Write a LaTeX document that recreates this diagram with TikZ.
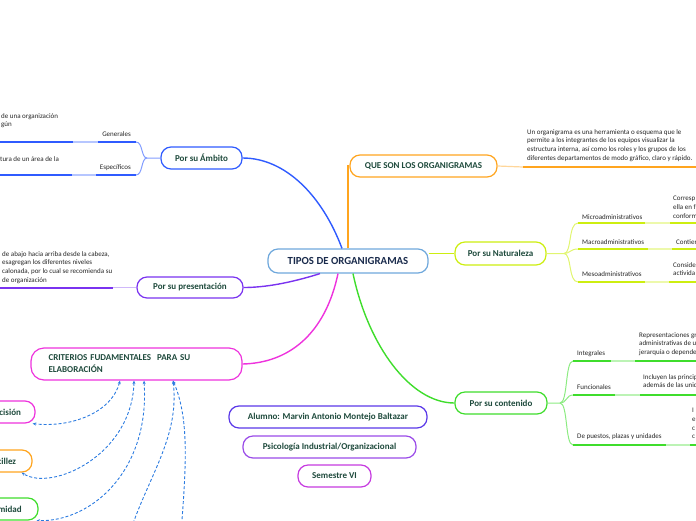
\documentclass[tikz,border=0pt]{standalone}
\usepackage{fontspec}
\setmainfont{Carlito}
\usetikzlibrary{arrows.meta}

\definecolor{ambi}{HTML}{2F5BFF}
\definecolor{naranja}{HTML}{FFA51F}
\definecolor{lima}{HTML}{CDEE10}
\definecolor{verde}{HTML}{3FDD2C}
\definecolor{morado}{HTML}{7A33F0}
\definecolor{rosa}{HTML}{EE33DD}
\definecolor{raiz}{HTML}{6FA8DC}
\definecolor{alumno}{HTML}{5A38E8}
\definecolor{psico}{HTML}{9A4BE8}
\definecolor{seme}{HTML}{C63BE0}
\definecolor{relazul}{HTML}{2B7BE0}
\definecolor{txtverde}{HTML}{1E4A3C}
\definecolor{txtraiz}{HTML}{1A2B4C}

\begin{document}
\begin{tikzpicture}[x=1pt,y=-1pt,
    topic/.style={draw, line width=1.2pt, rounded corners=10pt, fill=white,
      minimum height=22pt, inner sep=2pt, text=txtverde,
      font=\fontsize{9}{10}\selectfont\bfseries},
    leaf/.style={inner sep=0pt, text=black!85, font=\fontsize{7}{8}\selectfont},
    note/.style={leaf, align=left, font=\fontsize{7}{8.7}\selectfont},
    rel/.style={draw=relazul, line width=0.9pt, dash pattern=on 3pt off 2pt,
      {Stealth[length=3.5pt,width=3pt]}-{Stealth[length=3.5pt,width=3pt]}},
  ]
      \useasboundingbox (0,0) rectangle (696,520);
      \clip (0,0) rectangle (696,520);

      % main topics
      \node[topic, draw=raiz, minimum width=160pt, minimum height=24pt, text=txtraiz,
        font=\fontsize{10.8}{12}\selectfont\bfseries] (root) at (348,261) {TIPOS DE ORGANIGRAMAS};
      \node[topic, draw=naranja, minimum width=147pt] (que) at (423.5,166) {QUE SON LOS ORGANIGRAMAS};
      \node[topic, draw=lima, minimum width=91pt, minimum height=23pt] (natu) at (500.5,253.5) {Por su Naturaleza};
      \node[topic, draw=verde, minimum width=92pt] (conte) at (501,403) {Por su contenido};
      \node[topic, draw=ambi, minimum width=81pt] (ambito) at (201.5,158) {Por su Ámbito};
      \node[topic, draw=morado, minimum width=106pt, minimum height=21pt] (presen) at (190,287.5) {Por su presentación};
      \node[topic, draw=rosa, minimum width=211pt, minimum height=32pt, rounded corners=13pt,
        align=left, text width=176pt, font=\fontsize{9}{12}\selectfont\bfseries]
        (crit) at (136.5,364) {CRITERIOS FUDAMENTALES\ \ PARA SU\\ELABORACIÓN};

      \node[topic, draw=alumno, minimum width=198pt] (alum) at (328,417) {Alumno: Marvin Antonio Montejo Baltazar};
      \node[topic, draw=psico, minimum width=173pt] (psico) at (329.5,447) {Psicología Industrial/Organizacional};
      \node[topic, draw=seme, minimum width=73pt] (seme) at (334.5,476) {Semestre VI};

      \node[topic, draw=rosa, minimum width=62pt] (prec) at (4,412) {Precisión};
      \node[topic, draw=naranja, minimum width=64pt] (senc) at (0,461) {Sencillez};
      \node[topic, draw=verde, minimum width=80pt] (unif) at (-2,509) {Uniformidad};

      % branches from the root
      \draw[ambi, line width=1.4pt] ([xshift=-6pt]root.north) .. controls (322,195) and (285,158) .. (ambito.east);
      \draw[naranja, line width=1.4pt] (root.north) -- (root.north |- que.west) -- (que.west);
      \draw[lima, line width=1.4pt] (root.east |- natu.west) -- (natu.west);
      \draw[verde, line width=1.4pt] ([xshift=5pt]root.south) .. controls (368,345) and (410,403) .. (conte.west);
      \draw[rosa, line width=1.4pt] ([xshift=-10pt]root.south) .. controls (325,335) and (288,363) .. (crit.east);
      \draw[morado, line width=1.4pt] ([xshift=-28pt]root.south) .. controls (290,283) and (265,287.5) .. (presen.east);

      % que son
      \coordinate (q1) at (523,167);
      \coordinate (q2) at (700,167);
      \draw[naranja!45, line width=1.2pt] (que.east) -- (q1);
      \draw[naranja, line width=2pt] (q1) -- (q2);
      \node[note, anchor=north west] (qdesc) at (527,129) {Un organigrama es una herramienta o esquema que le\\
        permite a los integrantes de los equipos visualizar la\\
        estructura interna, así como los roles y los grupos de los\\
        diferentes departamentos de modo gráfico, claro y rápido.};

      % naturaleza
      \coordinate (nb) at (564,253.5);
      \coordinate (mi) at (578,223);
      \coordinate (ma) at (578,249);
      \coordinate (me) at (578,282);
      \draw[lima!60, line width=1pt] (natu.east) -- (nb) .. controls (572,253.5) and (568,223) .. (mi);
      \draw[lima!60, line width=1pt] (nb) .. controls (570,253.5) and (570,249) .. (ma);
      \draw[lima!60, line width=1pt] (nb) .. controls (572,253.5) and (568,282) .. (me);
      \draw[lima!35, line width=1.2pt] (mi) -- (700,223) (ma) -- (700,249) (me) -- (700,282);
      \draw[lima, line width=2pt] (mi) -- (645,223) (670,223) -- (700,223);
      \draw[lima, line width=2pt] (ma) -- (648,249) (672,249) -- (700,249);
      \draw[lima, line width=2pt] (me) -- (645,282) (669,282) -- (700,282);
      \node[leaf, anchor=west] (mitx) at (582,217) {Microadministrativos};
      \node[leaf, anchor=west] (matx) at (582,242) {Macroadministrativos};
      \node[leaf, anchor=west] (metx) at (582,274) {Mesoadministrativos};
      \node[note, anchor=north west] (midesc) at (673,196) {Corresp\\ella en f\\conform};
      \node[leaf, anchor=west] (madesc) at (676,242) {Contier};
      \node[note, anchor=north west] (medesc) at (673,262) {Conside\\activida};

      % contenido
      \coordinate (cb) at (560,403);
      \coordinate (in) at (573,361);
      \coordinate (fu) at (573,395);
      \coordinate (de) at (573,445);
      \draw[verde!60, line width=1pt] (conte.east) -- (cb) .. controls (568,403) and (565,361) .. (in);
      \draw[verde!60, line width=1pt] (cb) .. controls (567,403) and (566,395) .. (fu);
      \draw[verde!60, line width=1pt] (cb) .. controls (568,403) and (565,445) .. (de);
      \draw[verde!35, line width=1.2pt] (in) -- (700,361) (fu) -- (700,395) (de) -- (700,445);
      \draw[verde, line width=2pt] (in) -- (611,361) (635,361) -- (700,361);
      \draw[verde, line width=2pt] (fu) -- (615,395) (640,395) -- (700,395);
      \draw[verde, line width=2pt] (de) -- (666,445) (690,445) -- (700,445);
      \node[leaf, anchor=west] (intx) at (577,354) {Integrales};
      \node[leaf, anchor=west] (futx) at (577,387) {Funcionales};
      \node[leaf, anchor=west] (detx) at (577,437) {De puestos, plazas y unidades};
      \node[note, anchor=north west] (indesc) at (639,332) {Representaciones gr\\administrativas de u\\jerarquía o dependen};
      \node[note, anchor=north west] (fudesc) at (643,374) {Incluyen las princip\\además de las unid};
      \node[note, anchor=north west] (dedesc) at (692,408) {I\\e\\c\\c};

      % ambito
      \coordinate (ab) at (147,158);
      \coordinate (ge) at (136,142);
      \coordinate (es) at (136,175);
      \draw[ambi!60, line width=1pt] (ambito.west) -- (ab) .. controls (141,158) and (143,142) .. (ge);
      \draw[ambi!60, line width=1pt] (ab) .. controls (141,158) and (143,175) .. (es);
      \draw[ambi!35, line width=1.2pt] (ge) -- (-5,142) (es) -- (-5,175);
      \draw[ambi, line width=2pt] (ge) -- (98,142) (73,142) -- (-5,142);
      \draw[ambi, line width=2pt] (es) -- (96,175) (72,175) -- (-5,175);
      \node[leaf, anchor=east] (getx) at (131,134) {Generales};
      \node[leaf, anchor=east] (estx) at (131,168) {Específicos};
      \node[note, anchor=north west] (gedesc) at (1,113) {de una organización\\gún};
      \node[leaf, anchor=west] (esdesc) at (0,159) {tura de un área de la};

      % presentacion
      \coordinate (pr) at (113,287.5);
      \draw[morado!35, line width=1.2pt] (presen.west) -- (pr);
      \draw[morado, line width=2pt] (pr) -- (-5,287.5);
      \node[note, anchor=north west] (prdesc) at (2,251) {de abajo hacia arriba desde la cabeza,\\
        esagregan los diferentes niveles\\
        calonada, por lo cual se recomienda su\\
        de organización};

      % criterios
      \coordinate (hid1) at (126,545);
      \coordinate (hid2) at (180,545);
      \draw[rel] ([xshift=-16.5pt]crit.south) .. controls (112,412) and (72,428) .. ([xshift=-3pt]prec.south east);
      \draw[rel] ([xshift=-2.5pt]crit.south) .. controls (132,455) and (52,492) .. ([xshift=-11pt]senc.south east);
      \draw[rel] ([xshift=7.5pt]crit.south) .. controls (150,470) and (92,522) .. ([xshift=-2pt]unif.south east);
      \draw[rel] ([xshift=36.5pt]crit.south) .. controls (180,440) and (145,480) .. (hid1);
      \draw[rel] ([xshift=36.5pt]crit.south) .. controls (190,420) and (186,470) .. (hid2);
    \end{tikzpicture}
\end{document}
